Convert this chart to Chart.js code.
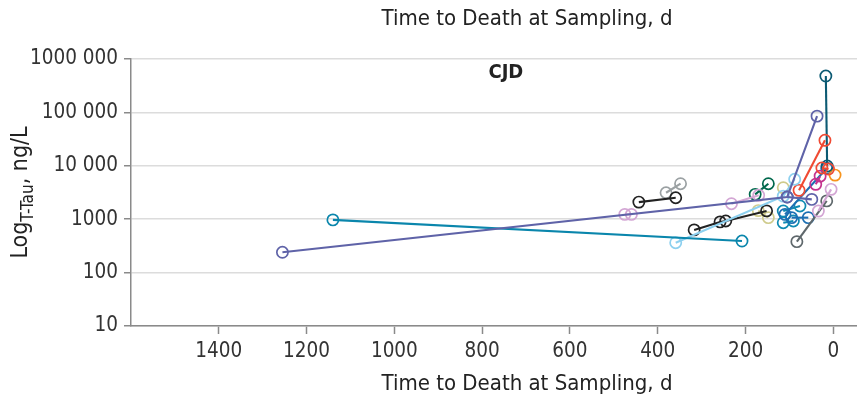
<!DOCTYPE html>
<html>
<head>
<meta charset="utf-8">
<script src="https://cdn.jsdelivr.net/npm/chart.js@4.4.1/dist/chart.umd.min.js"></script>
<style>
  body { margin: 0; background: #fff; }
</style>
</head>
<body>
<canvas id="myChart" width="857" height="400"></canvas>
<script>
// one entry per patient: days before death, T-tau (ng/L)
const patientDays = [
    [1255, 105, 37],
    [105, 49],
    [1140, 208],
    [359, 114, 88],
    [443, 359],
    [381, 348],
    [475, 460],
    [232, 170],
    [317, 258, 245, 152],
    [178, 148],
    [171, 148],
    [114],
    [78, 19],
    [26, 11],
    [17, 14],
    [-4],
    [40, 30],
    [34, 5],
    [83, 15],
    [110, 15],
    [95, 57],
    [114, 76],
    [114, 91]
];
const patientTau = [
    [240, 2600, 85000],
    [2600, 2350],
    [970, 390],
    [363, 2700, 5600],
    [2090, 2520],
    [3130, 4620],
    [1230, 1230],
    [1950, 2800],
    [630, 890, 925, 1430],
    [2920, 4620],
    [1450, 1070],
    [3890],
    [3470, 30000],
    [9100, 8700],
    [480000, 9900],
    [6700],
    [4500, 6400],
    [1420, 3620],
    [380, 2200],
    [1230, 9000],
    [1070, 1070],
    [1420, 1770],
    [860, 925]
];
const patientColors = [
    '#5f63a8', '#5f63a8', '#0a86ac', '#8dd0ef', '#222222', '#9ba1a3',
    '#d3a6d4', '#d3a6d4', '#222222', '#00684c', '#cfcb8c', '#cfcb8c',
    '#f04a33', '#f04a33', '#0c5a73', '#f7941d', '#c4328e', '#d3a6d4',
    '#5f686c', '#1c6fb3', '#1c6fb3', '#0f8ab2', '#0f8ab2'
];
const xTicks = [1400, 1200, 1000, 800, 600, 400, 200, 0];
const yTicks = [10, 100, 1000, 10000, 100000, 1000000];
const yTickLabels = ['10', '100', '1000', '10 000', '100 000', '1000 000'];
const xTitle = 'Time to Death at Sampling, d';
const groupLabel = 'CJD';

const fontFamily = "'DejaVu Sans Condensed', 'Liberation Sans Narrow', sans-serif";

const textPlugin = {
    id: 'texts',
    afterDraw(chart) {
        const ctx = chart.ctx;
        const x = chart.scales.x;
        ctx.save();
        ctx.fillStyle = '#222';
        ctx.textAlign = 'center';
        ctx.textBaseline = 'alphabetic';
        ctx.font = '22px ' + fontFamily;
        ctx.fillText(xTitle, 527, 25);
        ctx.fillText(xTitle, 527, 390);

        ctx.font = 'bold 20px ' + fontFamily;
        ctx.textBaseline = 'middle';
        ctx.fillText(groupLabel, x.getPixelForValue(746), chart.chartArea.top + 14);

        // y title with subscript
        ctx.translate(27, (chart.chartArea.top + chart.chartArea.bottom) / 2);
        ctx.rotate(-Math.PI / 2);
        ctx.textAlign = 'left';
        ctx.textBaseline = 'alphabetic';
        const main = '23px ' + fontFamily;
        const sub = '17px ' + fontFamily;
        ctx.font = main;
        const w1 = ctx.measureText('Log').width;
        const w3 = ctx.measureText(', ng/L').width;
        ctx.font = sub;
        const w2 = ctx.measureText('T-Tau').width;
        let pos = -(w1 + w2 + w3) / 2;
        ctx.font = main;
        ctx.fillText('Log', pos, 0);
        pos += w1;
        ctx.font = sub;
        ctx.fillText('T-Tau', pos, 6);
        pos += w2;
        ctx.font = main;
        ctx.fillText(', ng/L', pos, 0);
        ctx.restore();
    }
};

const ctx = document.getElementById('myChart');
new Chart(ctx, {
    type: 'scatter',
    data: {
        datasets: patientDays.map((days, i) => ({
            data: days.map((d, j) => ({ x: d, y: patientTau[i][j] })),
            showLine: true,
            tension: 0,
            borderColor: patientColors[i],
            borderWidth: 2.1,
            pointBorderColor: patientColors[i],
            pointBackgroundColor: 'rgba(0,0,0,0)',
            pointRadius: 5.6,
            pointBorderWidth: 1.7,
            clip: false
        }))
    },
    options: {
        responsive: false,
        animation: false,
        layout: {
            autoPadding: false,
            padding: { top: 59, right: 0, bottom: 0, left: 0 }
        },
        plugins: {
            legend: { display: false },
            tooltip: { enabled: false },
            title: { display: false }
        },
        scales: {
            x: {
                type: 'linear',
                reverse: true,
                min: -54,
                max: 1600,
                afterBuildTicks: (s) => { s.ticks = xTicks.map(v => ({ value: v })); },
                afterFit: (s) => {
                    s.height = 74;
                    s.paddingLeft = 0;
                    s.paddingRight = 0;
                },
                ticks: {
                    color: '#333',
                    padding: 5,
                    maxRotation: 0,
                    font: { family: fontFamily, size: 20.5 },
                    callback: (v) => String(v)
                },
                grid: {
                    drawOnChartArea: false,
                    tickLength: 8,
                    tickColor: '#8a8a8a',
                    tickWidth: 1.5
                },
                border: { color: '#8a8a8a', width: 1.5 }
            },
            y: {
                type: 'logarithmic',
                min: 10,
                max: 1000000,
                afterBuildTicks: (s) => { s.ticks = yTicks.map(v => ({ value: v })); },
                afterFit: (s) => { s.width = 131; },
                ticks: {
                    color: '#333',
                    padding: 6,
                    font: { family: fontFamily, size: 20.5 },
                    callback: (v) => yTickLabels[yTicks.indexOf(v)]
                },
                grid: {
                    color: '#dcdcdc',
                    lineWidth: 1.5,
                    tickLength: 7,
                    tickColor: '#8a8a8a',
                    tickWidth: 1.5
                },
                border: { color: '#8a8a8a', width: 1.5 }
            }
        }
    },
    plugins: [textPlugin]
});
</script>
</body>
</html>
